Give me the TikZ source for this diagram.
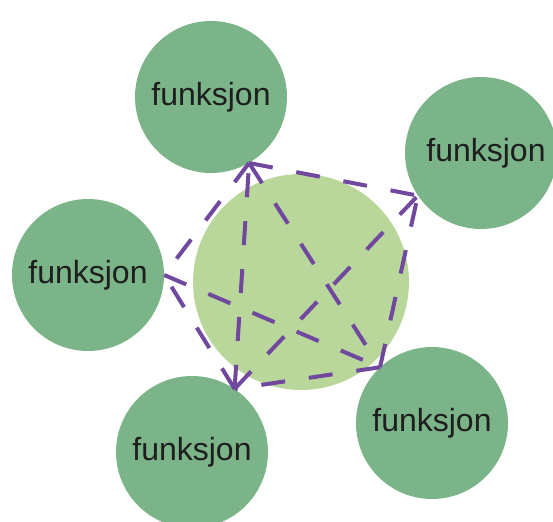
\documentclass[tikz,border=0pt]{standalone}
\usepackage{fontspec}
\setmainfont{Liberation Sans}
\definecolor{outergreen}{RGB}{123,180,136}
\definecolor{hubgreen}{RGB}{185,215,155}
\definecolor{linkpurple}{RGB}{112,72,158}
\definecolor{textdark}{RGB}{30,30,30}
\begin{document}
\begin{tikzpicture}[x=1pt,y=-1pt,
  outer/.style={circle, fill=outergreen, minimum size=152pt, inner sep=0pt,
    font=\fontsize{32}{36}\selectfont, text=textdark},
  hub/.style={circle, fill=hubgreen, minimum size=216pt, inner sep=0pt},
  link/.style={draw=linkpurple, line width=4pt, dash pattern=on 24pt off 24pt}]
\useasboundingbox (0,0) rectangle (553,521);
\node[hub] (C) at (301,282) {};
\node[outer] (T) at (211,97) {funksjon};
\node[outer] (R) at (481,153) {\hspace*{10pt}funksjon};
\node[outer] (L) at (88,275) {funksjon};
\node[outer] (BL) at (192,452) {funksjon};
\node[outer] (BR) at (432,423) {funksjon};
\coordinate (t) at (T.-60);
\coordinate (r) at (R.214);
\coordinate (l) at (L.0);
\coordinate (bl) at (BL.56);
\coordinate (br) at (BR.133);
\draw[link] (t) -- (r);
\draw[link] (bl) -- (t);
\draw[link] (t) -- (br);
\draw[link] (t) -- (l);
\draw[link] (br) -- (bl);
\draw[link] (l) -- (br);
\draw[link] (bl) -- (l);
\draw[link] (bl) -- (r);
\draw[link] (br) -- (r);
\end{tikzpicture}
\end{document}
